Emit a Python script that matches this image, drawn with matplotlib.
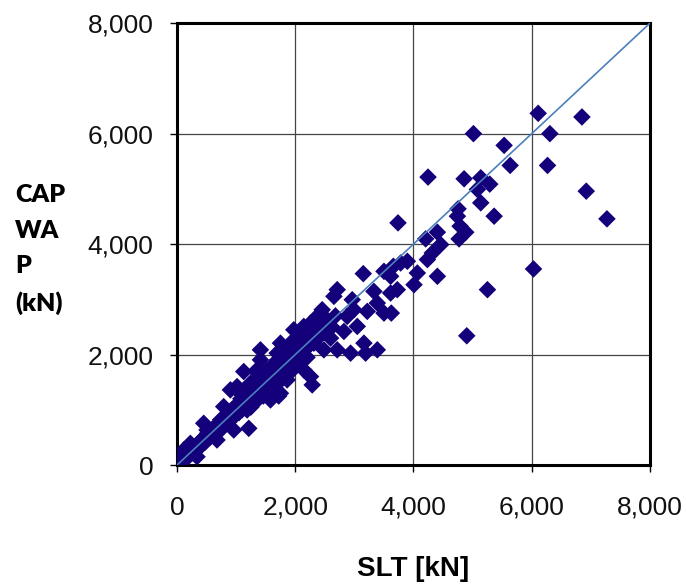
import matplotlib
matplotlib.use("Agg")
import matplotlib.pyplot as plt

# SLT (x) vs CAPWAP (y) capacities in kN
slt = [56, 113, 226, 282, 339, 452, 508, 621, 677, 734, 790, 903, 960, 1016, 1073,
       1129, 1186, 1214, 1242, 1298, 1411, 1411, 1524, 1581, 1581, 1694, 1750, 1750,
       1863, 1920, 1920, 1976, 2033, 2145, 2145, 2258, 2258, 2287, 2315, 2371, 2428,
       2456, 2484, 2597, 2654, 2710, 2710, 2823, 2879, 2936, 2964, 2992, 3049, 3151,
       3162, 3190, 3218, 3331, 3388, 3388, 3501, 3501, 3613, 3613, 3625, 3659, 3726,
       3738, 3783, 3896, 4009, 4065, 4206, 4235, 4246, 4319, 4404, 4404, 4460, 4743,
       4754, 4771, 4788, 4856, 4884, 4901, 5014, 5081, 5138, 5138, 5251, 5290, 5364,
       5533, 5635, 6030, 6109, 6267, 6307, 6849, 6922, 7272,
       # dense band near the 1:1 line
       40, 90, 130, 160, 190, 240, 270, 310, 350, 380, 410, 440, 480, 520, 560, 590,
       630, 660, 700, 730, 760, 800, 840, 870, 900, 930, 970, 1000, 1040, 1080, 1100,
       1130, 1160, 1200, 1230, 1260, 1290, 1320, 1350, 1380, 1420, 1450, 1480, 1510,
       1540, 1570, 1600, 1640, 1670, 1700, 1730, 1760, 1790, 1820, 1850, 1880, 1910,
       1940, 1970, 2000, 2040, 2080, 2110, 2150, 2190, 2230, 2270, 2320, 2380, 2430,
       2490, 2550, 2620, 2680, 1050, 1150, 1250, 1330, 1460, 1560, 1620, 1780, 1680,
       1300, 1380, 1230, 1720, 1840, 1980, 2060, 2200]
capwap = [91, 272, 393, 272, 151, 756, 635, 574, 454, 816, 1058, 1361, 635, 1421, 1300,
          1693, 998, 665, 1482, 1179, 2086, 1905, 1482, 1179, 1723, 2026, 2207, 1300,
          1542, 1784, 2207, 2449, 1905, 2510, 1723, 2570, 1602, 1451, 2207, 2691, 2449,
          2812, 2086, 2298, 3054, 3175, 2086, 2419, 2691, 2026, 2993, 2812, 2510, 3465,
          2207, 2026, 2782, 3144, 2933, 2086, 3507, 2751, 3417, 3114, 2751, 3598, 3175,
          4384, 3658, 3689, 3265, 3477, 4094, 3719, 5213, 3840, 4215, 3417, 3991, 4505,
          4638, 4094, 4324, 5182, 4215, 2340, 5999, 4989, 5200, 4747, 3175, 5085, 4505,
          5787, 5424, 3550, 6367, 5424, 5999, 6301, 4958, 4457,
          40, 130, 110, 210, 150, 270, 220, 330, 300, 420, 350, 480, 420, 580, 500, 640,
          560, 700, 620, 780, 660, 860, 760, 940, 820, 1000, 880, 1080, 960, 1200, 1000,
          1260, 1100, 1380, 1120, 1420, 1200, 1500, 1260, 1560, 1320, 1620, 1380, 1700,
          1440, 1760, 1500, 1820, 1560, 1900, 1620, 1960, 1700, 2020, 1780, 2080, 1840,
          2140, 1900, 2200, 1980, 2260, 2040, 2340, 2120, 2400, 2200, 2480, 2300, 2560,
          2400, 2620, 2500, 2700, 950, 1220, 1050, 1700, 1250, 1340, 1420, 1560, 1480,
          1150, 1200, 1350, 1250, 1600, 1750, 1880, 1950]

ticks = [0, 2000, 4000, 6000, 8000]
tick_labels = ["0", "2,000", "4,000", "6,000", "8,000"]

fig = plt.figure(figsize=(6.86, 5.85), dpi=100)
ax = fig.add_axes([0.258, 0.205, 0.6895, 0.7555])

ax.scatter(slt, capwap, marker="D", s=80, color="#14007a", edgecolors="none", zorder=3)
ax.plot([0, 8000], [0, 8000], color="#4a80bb", lw=1.2, zorder=4)

ax.set_xlim(0, 8000)
ax.set_ylim(0, 8000)
ax.set_xticks(ticks)
ax.set_yticks(ticks)
ax.set_xticklabels(tick_labels)
ax.set_yticklabels(tick_labels)
ax.grid(True, color="#444444", lw=0.9)
ax.set_axisbelow(True)
for sp in ax.spines.values():
    sp.set_linewidth(2.2)
    sp.set_color("black")
ax.tick_params(axis="x", labelsize=19, length=5, width=1, pad=17)
ax.tick_params(axis="y", labelsize=19, length=5, width=1, pad=12)
for lab in ax.get_xticklabels() + ax.get_yticklabels():
    lab.set_family(["Liberation Sans", "DejaVu Sans"])
    lab.set_color("#111111")

ax.set_xlabel("SLT [kN]", fontsize=20, fontweight="bold",
              family=["Liberation Sans", "DejaVu Sans"], labelpad=26)
fig.text(0.022, 0.573, "CAP\nWA\nP\n(kN)", fontsize=18, fontweight="heavy",
         family=["Lato", "DejaVu Sans"], ha="left", va="center", linespacing=1.75)

fig.savefig("out.png", dpi=100)
